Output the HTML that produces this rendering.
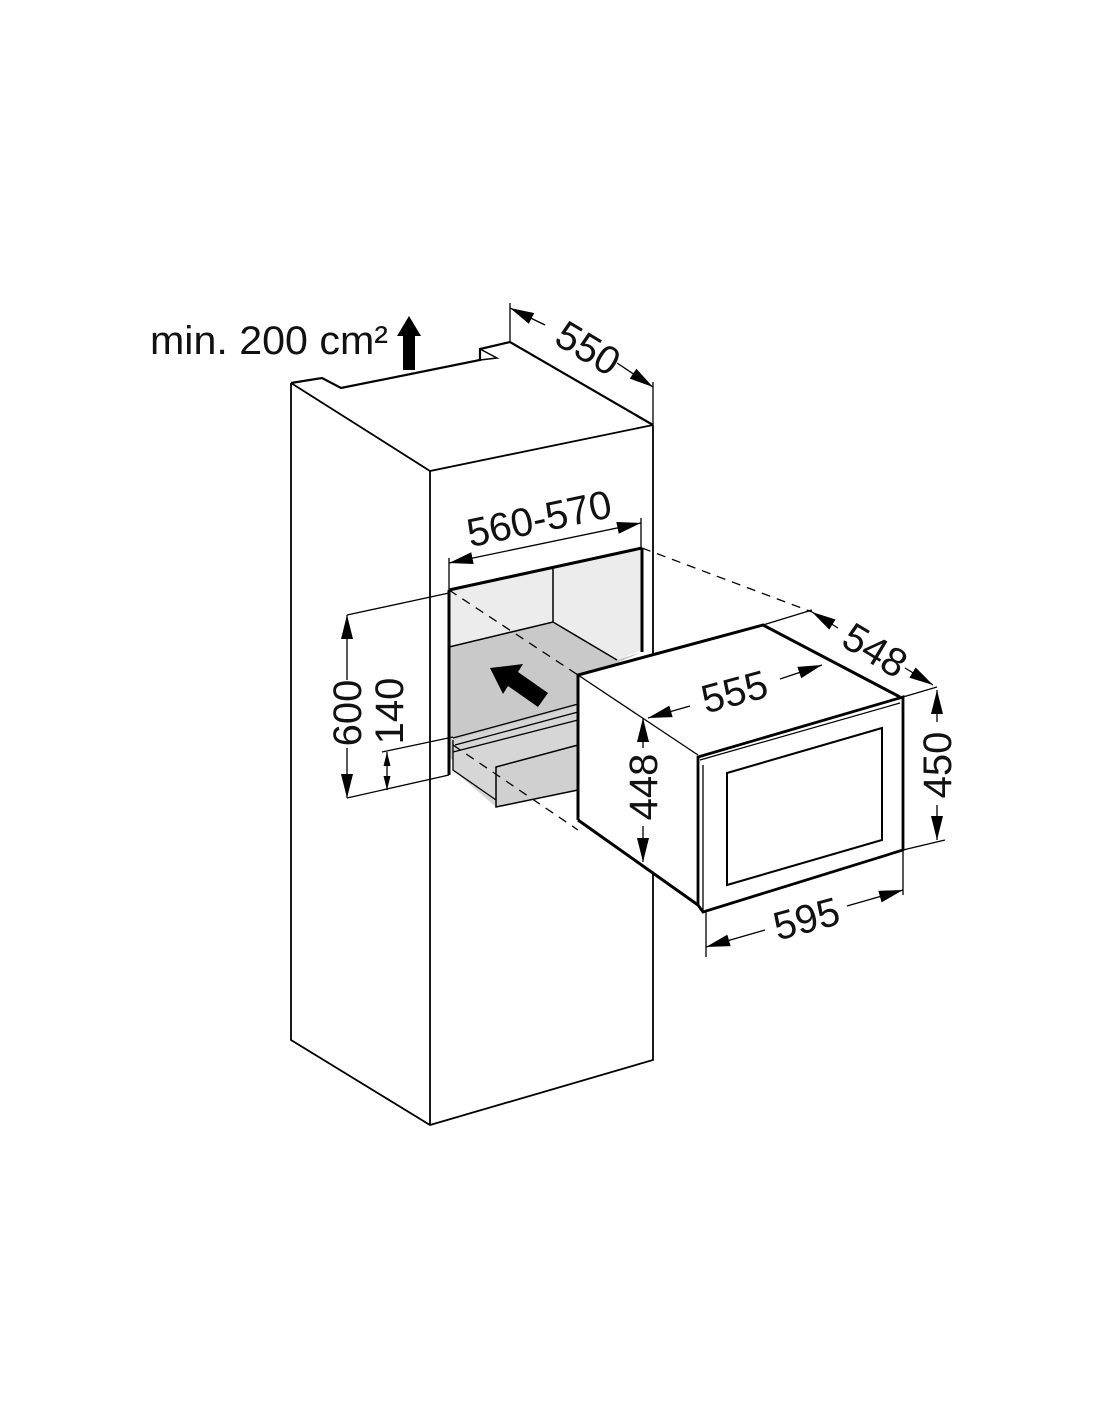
<!DOCTYPE html>
<html><head><meta charset="utf-8"><style>
html,body{margin:0;padding:0;background:#fff;}
svg{display:block}
text{font-family:"Liberation Sans",sans-serif;fill:#111;}
</style></head><body>
<svg width="1100" height="1422" viewBox="0 0 1100 1422" xmlns="http://www.w3.org/2000/svg">
<defs>
<marker id="a" viewBox="0 0 20 10" refX="20" refY="5" markerWidth="24" markerHeight="12" markerUnits="userSpaceOnUse" orient="auto-start-reverse">
<path d="M0,0 L20,5 L0,10 z" fill="#000"/></marker>
<marker id="s" viewBox="0 0 20 10" refX="20" refY="5" markerWidth="14" markerHeight="9" markerUnits="userSpaceOnUse" orient="auto-start-reverse">
<path d="M0,0 L20,5 L0,10 z" fill="#000"/></marker>
</defs>
<g stroke="#000" fill="none" stroke-linejoin="miter">
<!-- cabinet -->
<path d="M291,383 L322,378 L341,388 L480,360 L480,349 L510,342 L653,425" stroke-width="2.2"/>
<path d="M480,349 L497,358 L480,360" stroke-width="1.5"/>
<path d="M291,383 L430,471 L653,425" stroke-width="1.8"/>
<path d="M291,383 L291,1040 L430,1125 L653,1060 L653,425" stroke-width="1.8"/>
<line x1="430" y1="471" x2="430" y2="1125" stroke-width="1.8"/>

<!-- niche fills -->
<polygon points="449,590 642,548 642,650 617,660 553,622 449,647" fill="#ececec" stroke="none"/>
<polygon points="449,647 553,622 617,660 642,652 578,680 578,735 449,760" fill="#c9c9c9" stroke="none"/>
<polygon points="453,740 578,706 578,760 496,785 496,807 453,770" fill="#d6d6d6" stroke="none"/>
<polygon points="496,767 578,745 578,790 496,807" fill="#d0d0d0" stroke="#000" stroke-width="1.5"/>
<line x1="553" y1="568" x2="553" y2="622" stroke-width="1.5"/>
<path d="M449,647 L553,622 L617,660" stroke-width="1.5"/>
<path d="M453,738 L578,704 M455,745 L578,712 M453,752 L578,720" stroke-width="1.3"/>
<path d="M453,740 L453,770 L496,800" stroke-width="1.3"/>
<path d="M449,590 L642,548" stroke-width="3"/>
<line x1="449" y1="590" x2="449" y2="775" stroke-width="3"/>
<line x1="642" y1="548" x2="642" y2="652" stroke-width="3"/>
<!-- big arrow -->
<path d="M548,693 L518,672 L523,664 L490,668 L503,694 L508,686 L538,707 z" fill="#000" stroke="none"/>

<!-- dashed -->
<g stroke-dasharray="9,7" stroke-width="1.3">
<line x1="449" y1="590" x2="578" y2="675"/>
<line x1="642" y1="548" x2="812" y2="612"/>
<line x1="453" y1="745" x2="578" y2="830"/>
</g>

<!-- microwave -->
<polygon points="578,675 763,625 900,697 698,755" fill="#fff" stroke="none"/>
<polygon points="578,675 698,755 698,905 578,820" fill="#fff" stroke="none"/>
<polygon points="698,755 903,697 903,850 703,912" fill="#fff" stroke="none"/>
<path d="M578,820 L578,675 L763,625 L900,697" stroke-width="3"/>
<path d="M578,675 L698,755" stroke-width="1.3"/>
<path d="M578,820 L698,905" stroke-width="3"/>
<path d="M698,757 L903,697 L903,850 L703,912 L698,905 Z" stroke-width="2.8"/>
<path d="M703,765 L703,912" stroke-width="1.3"/>
<path d="M700,760 L900,703" stroke-width="1.2"/>
<polygon points="727,773 882,728 882,840 727,885" stroke-width="2"/>

<!-- dimension lines -->
<g stroke-width="1.3">
<line x1="510" y1="303" x2="510" y2="342"/>
<line x1="653" y1="382" x2="653" y2="425"/>
<line x1="510" y1="308" x2="545" y2="325" marker-start="url(#a)"/>
<line x1="617" y1="363" x2="653" y2="387" marker-end="url(#a)"/>
<line x1="449" y1="558" x2="449" y2="590"/>
<line x1="641" y1="518" x2="641" y2="548"/>
<line x1="449" y1="563" x2="641" y2="523" marker-start="url(#a)" marker-end="url(#a)"/>
<line x1="347" y1="615" x2="449" y2="593"/>
<line x1="347" y1="798" x2="449" y2="775"/>
<line x1="347" y1="615" x2="347" y2="680" marker-start="url(#a)"/>
<line x1="347" y1="748" x2="347" y2="798" marker-end="url(#a)"/>
<line x1="382" y1="752" x2="453" y2="737"/>
<line x1="387" y1="752" x2="387" y2="790" marker-start="url(#s)" marker-end="url(#s)"/>
<line x1="763" y1="625" x2="812" y2="610"/>
<line x1="903" y1="697" x2="937" y2="687"/>
<line x1="812" y1="612" x2="838" y2="628" marker-start="url(#a)"/>
<line x1="905" y1="668" x2="933" y2="685" marker-end="url(#a)"/>
<line x1="648" y1="718" x2="690" y2="706" marker-start="url(#a)"/>
<line x1="780" y1="679" x2="822" y2="665" marker-end="url(#a)"/>
<line x1="643" y1="718" x2="643" y2="748" marker-start="url(#a)"/>
<line x1="643" y1="826" x2="643" y2="862" marker-end="url(#a)"/>
<line x1="903" y1="850" x2="945" y2="840"/>
<line x1="937" y1="690" x2="937" y2="722" marker-start="url(#a)"/>
<line x1="937" y1="805" x2="937" y2="840" marker-end="url(#a)"/>
<line x1="706" y1="912" x2="706" y2="957"/>
<line x1="903" y1="850" x2="903" y2="895"/>
<line x1="706" y1="947" x2="765" y2="930" marker-start="url(#a)"/>
<line x1="847" y1="906" x2="903" y2="890" marker-end="url(#a)"/>
</g>
<path d="M403,370 L403,336 L397,336 L409,316 L421,336 L415,336 L415,370 Z" fill="#000" stroke="none"/>
</g>

<g font-size="40">
<text x="150" y="354" textLength="238" lengthAdjust="spacingAndGlyphs">min. 200 cm²</text>
<text transform="translate(581,360) rotate(31)" text-anchor="middle">550</text>
<text transform="translate(542,532) rotate(-12)" text-anchor="middle">560-570</text>
<text transform="translate(361,713) rotate(-90)" text-anchor="middle">600</text>
<text transform="translate(403,711) rotate(-90)" text-anchor="middle">140</text>
<text transform="translate(868,662) rotate(31)" text-anchor="middle">548</text>
<text transform="translate(738,705) rotate(-15)" text-anchor="middle">555</text>
<text transform="translate(657,787) rotate(-90)" text-anchor="middle">448</text>
<text transform="translate(951,765) rotate(-90)" text-anchor="middle">450</text>
<text transform="translate(810,932) rotate(-15)" text-anchor="middle">595</text>
</g>
</svg>
</body></html>
